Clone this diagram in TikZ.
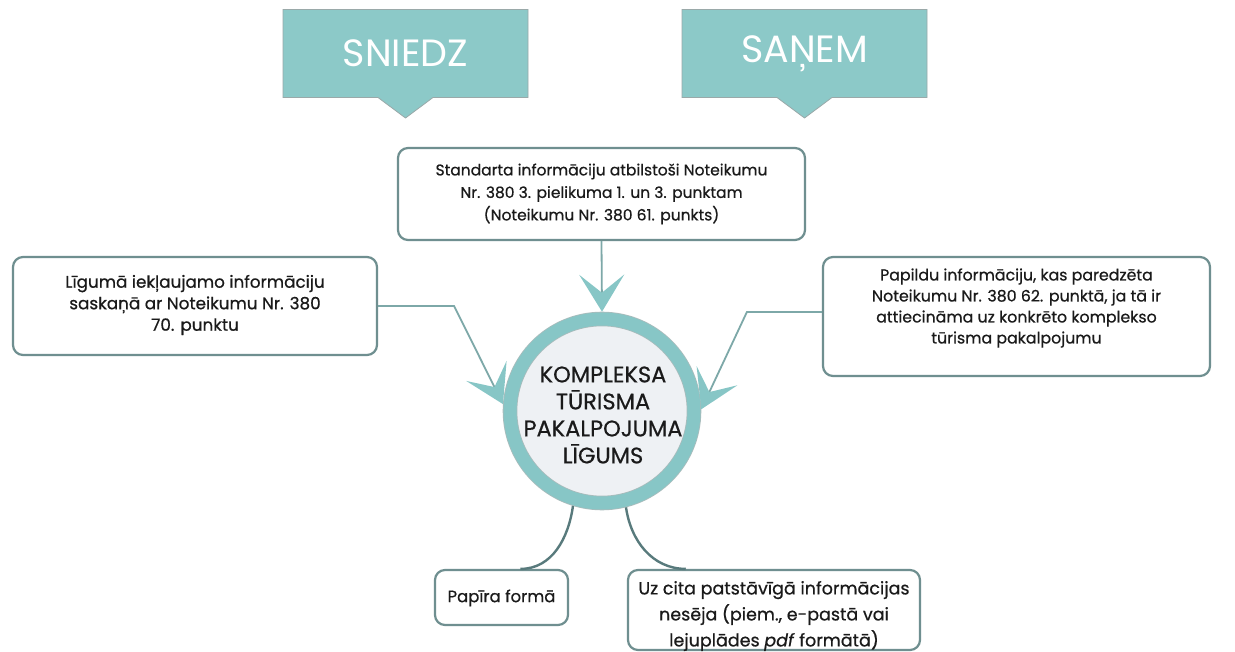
\documentclass[tikz,border=0pt]{standalone}
\usepackage{fontspec}
\setmainfont{Poppins}[FakeBold=0.6]
\newfontfamily\callfont{Poppins}
\usetikzlibrary{arrows.meta,shapes.callouts,calc}
\definecolor{callfill}{HTML}{8CC9C8}
\definecolor{callline}{HTML}{9AA9A9}
\definecolor{ringteal}{HTML}{87C6C6}
\definecolor{connline}{HTML}{7DA8A8}
\definecolor{boxline}{HTML}{6F8F90}
\definecolor{curveline}{HTML}{587A7C}
\definecolor{innerfill}{HTML}{EEF1F4}
\definecolor{txt}{HTML}{1A1A1A}
\tikzset{
  callbox/.style={rectangle callout, fill=callfill, draw=callline, line width=0.8pt,
    minimum width=245pt, minimum height=88pt, callout pointer width=55pt,
    text=white, font=\callfont\fontsize{38}{44}\selectfont, inner sep=0pt},
  infobox/.style={rectangle, rounded corners=10pt, draw=boxline, line width=2.2pt, fill=white,
    inner sep=0pt},
  boxtext/.style={align=center, text=txt, inner sep=0pt},
  hub/.style={circle, minimum size=184pt, fill=innerfill, draw=boxline!60, line width=0.8pt,
    double=ringteal, double distance=13pt, outer sep=7.3pt, inner sep=0pt},
  conn/.style={draw=connline, line width=1.8pt,
    -{Stealth[length=37pt,width=45pt,inset=18pt,color=ringteal]}},
  curv/.style={draw=curveline, line width=2.4pt},
}
\begin{document}
\begin{tikzpicture}[x=1pt,y=-1pt]
\useasboundingbox[fill=white] (0,0) rectangle (1235,652);
% callouts
\node[callbox, callout absolute pointer={(405.5,118)}] (sniedz) at (405.5,53.5) {SNIEDZ};
\node[callbox, callout absolute pointer={(804.5,118)}] (sanem) at (804.5,53.5) {SAŅEM};
% boxes
\node[infobox, minimum width=407pt, minimum height=92pt] (tbox) at (601.5,194) {};
\node[boxtext, font=\fontsize{15.5}{22.5}\selectfont] (ttext) at (601.5,194)
  {Standarta informāciju atbilstoši Noteikumu\\Nr. 380 3. pielikuma 1. un 3. punktam\\(Noteikumu Nr. 380 61. punkts)};
\node[infobox, minimum width=364pt, minimum height=98pt] (lbox) at (195,306) {};
\node[boxtext, font=\fontsize{16.8}{21.5}\selectfont] (ltext) at (195,305)
  {Līgumā iekļaujamo informāciju\\saskaņā ar Noteikumu Nr. 380\\70. punktu};
\node[infobox, minimum width=387pt, minimum height=119pt] (rbox) at (1016.5,316.5) {};
\node[boxtext, font=\fontsize{15.8}{21}\selectfont] (rtext) at (1016.5,308)
  {Papildu informāciju, kas paredzēta\\Noteikumu Nr. 380 62. punktā, ja tā ir\\attiecināma uz konkrēto komplekso\\tūrisma pakalpojumu};
\node[infobox, minimum width=133pt, minimum height=55pt] (pbox) at (501.5,597.5) {};
\node[boxtext, font=\fontsize{16.5}{22}\selectfont] (ptext) at (501.5,598) {Papīra formā};
\node[infobox, minimum width=292pt, minimum height=80pt] (ubox) at (774,610) {};
\node[boxtext, font=\fontsize{17.5}{26}\selectfont] (utext) at (774,616)
  {Uz cita patstāvīgā informācijas\\nesēja (piem., e-pastā vai\\lejuplādes \textit{pdf} formātā)};
% hub
\node[hub] (c) at (602,411) {};
\node[boxtext, font=\fontsize{22.5}{27}\selectfont] (ctext) at (603,415)
  {KOMPLEKSA\\TŪRISMA\\PAKALPOJUMA\\LĪGUMS};
% connectors
\draw[conn] (tbox.south) -- (c.north);
\draw[conn] (lbox.east) -- ++(76,0) -- (c.176);
\draw[conn] ([yshift=4.5pt]rbox.west) -- ++(-75,0) -- (c.1);
% curves
\coordinate (pe) at ($(pbox.north west)!0.64!(pbox.north east)$);
\coordinate (ue) at ($(ubox.north west)!0.2!(ubox.north east)$);
\draw[curv] (c.253) to[out=262, in=0] (pe);
\draw[curv] (c.284) to[out=278, in=180] (ue);
\end{tikzpicture}
\end{document}
